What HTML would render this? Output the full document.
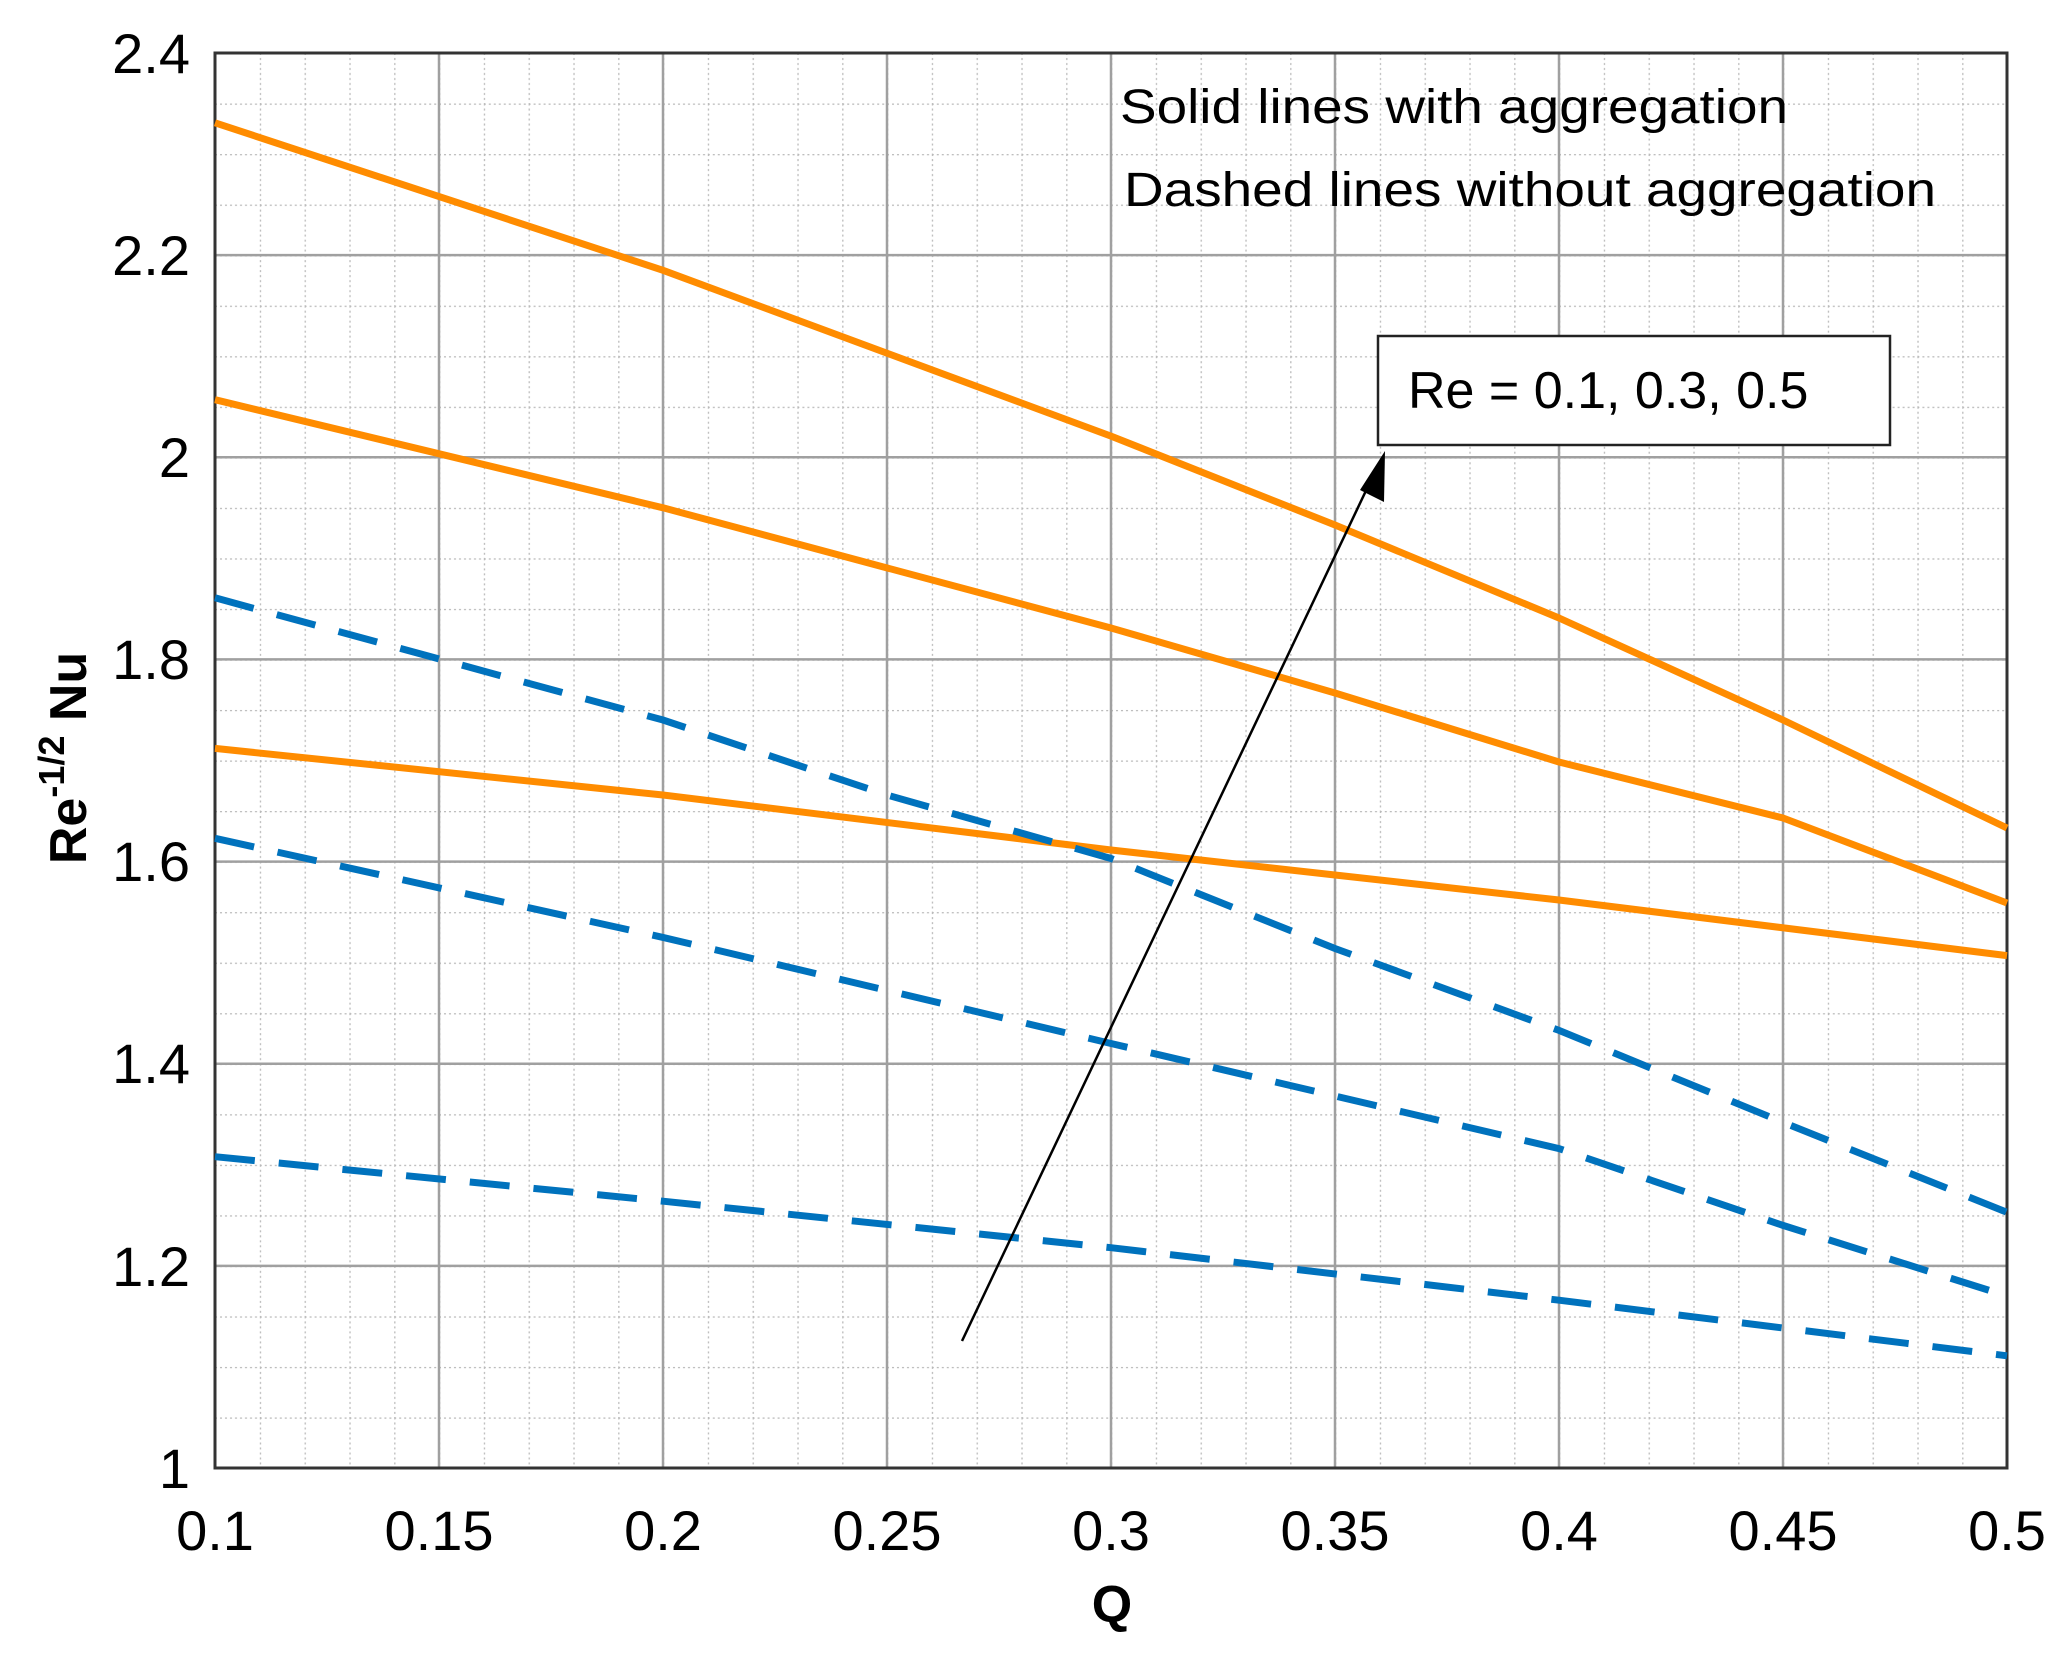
<!DOCTYPE html>
<html><head><meta charset="utf-8"><style>
html,body{margin:0;padding:0;background:#fff;}
svg{display:block;font-family:"Liberation Sans",Arial,sans-serif;}
</style></head><body>
<svg width="2068" height="1664" viewBox="0 0 2068 1664" xmlns="http://www.w3.org/2000/svg">
<defs>
<pattern id="mg" x="215" y="53" width="44.8" height="50.536" patternUnits="userSpaceOnUse">
<line x1="0.5" y1="0" x2="0.5" y2="50.536" stroke="#b8b8b8" stroke-width="1.5" stroke-dasharray="2,3"/>
<line x1="0" y1="0.5" x2="44.8" y2="0.5" stroke="#b8b8b8" stroke-width="1.5" stroke-dasharray="2,3"/>
</pattern>
</defs>
<rect x="215" y="53" width="1792" height="1415" fill="url(#mg)"/>
<g stroke="#a0a0a0" stroke-width="2.5">
<line x1="439" y1="53" x2="439" y2="1468"/><line x1="663" y1="53" x2="663" y2="1468"/>
<line x1="887" y1="53" x2="887" y2="1468"/><line x1="1111" y1="53" x2="1111" y2="1468"/>
<line x1="1335" y1="53" x2="1335" y2="1468"/><line x1="1559" y1="53" x2="1559" y2="1468"/>
<line x1="1783" y1="53" x2="1783" y2="1468"/>
<line x1="215" y1="255.1" x2="2007" y2="255.1"/><line x1="215" y1="457.3" x2="2007" y2="457.3"/>
<line x1="215" y1="659.4" x2="2007" y2="659.4"/><line x1="215" y1="861.6" x2="2007" y2="861.6"/>
<line x1="215" y1="1063.7" x2="2007" y2="1063.7"/><line x1="215" y1="1265.9" x2="2007" y2="1265.9"/>
</g>
<rect x="215" y="53" width="1792" height="1415" fill="none" stroke="#333" stroke-width="3"/>
<g fill="none" stroke="#FF8C00" stroke-width="7" stroke-linejoin="round">
<polyline points="215,122.8 663,270.3 1111,436.1 1335,525 1559,618 1783,720 2007,828"/>
<polyline points="215,399.7 663,507.8 1111,628 1335,693 1559,762 1783,818 2007,903"/>
<polyline points="215,748.4 663,795 1111,850 1335,875 1559,900 2007,955.6"/>
</g>
<g fill="none" stroke="#0072BD" stroke-width="7" stroke-dasharray="40,24">
<polyline points="215,597.8 663,720 887,795 1111,858.5 1335,948.5 1559,1030.4 1783,1122.3 2007,1212.3"/>
<polyline points="215,838.3 663,937.4 1111,1043.5 1335,1096 1559,1148.6 1783,1225.4 2007,1296"/>
<polyline points="215,1156.7 663,1201.2 1111,1247.7 1559,1300.2 2007,1355.8"/>
</g>
<line x1="962" y1="1341" x2="1372" y2="478" stroke="#000" stroke-width="2.5"/>
<polygon points="1385,451 1384,502 1360,490" fill="#000"/>
<rect x="1378" y="336" width="512" height="109" fill="#fff" stroke="#222" stroke-width="2.5"/>
<text x="1408" y="408" font-size="52" fill="#000">Re = 0.1, 0.3, 0.5</text>
<text x="1120" y="123" font-size="48" fill="#000" textLength="668" lengthAdjust="spacingAndGlyphs">Solid lines with aggregation</text>
<text x="1124" y="206" font-size="48" fill="#000" textLength="812" lengthAdjust="spacingAndGlyphs">Dashed lines without aggregation</text>
<g font-size="56" fill="#000" text-anchor="end">
<text x="190" y="73">2.4</text><text x="190" y="275">2.2</text><text x="190" y="477">2</text>
<text x="190" y="679">1.8</text><text x="190" y="881">1.6</text><text x="190" y="1083">1.4</text>
<text x="190" y="1286">1.2</text><text x="190" y="1488">1</text>
</g>
<g font-size="56" fill="#000" text-anchor="middle">
<text x="215" y="1550">0.1</text><text x="439" y="1550">0.15</text><text x="663" y="1550">0.2</text>
<text x="887" y="1550">0.25</text><text x="1111" y="1550">0.3</text><text x="1335" y="1550">0.35</text>
<text x="1559" y="1550">0.4</text><text x="1783" y="1550">0.45</text><text x="2007" y="1550">0.5</text>
</g>
<text x="1112" y="1622" font-size="52" font-weight="bold" text-anchor="middle">Q</text>
<text transform="translate(86,758) rotate(-90)" font-size="52" font-weight="bold" text-anchor="middle">Re<tspan font-size="36" dy="-22">-1/2</tspan><tspan dy="22"> Nu</tspan></text>
</svg>
</body></html>
